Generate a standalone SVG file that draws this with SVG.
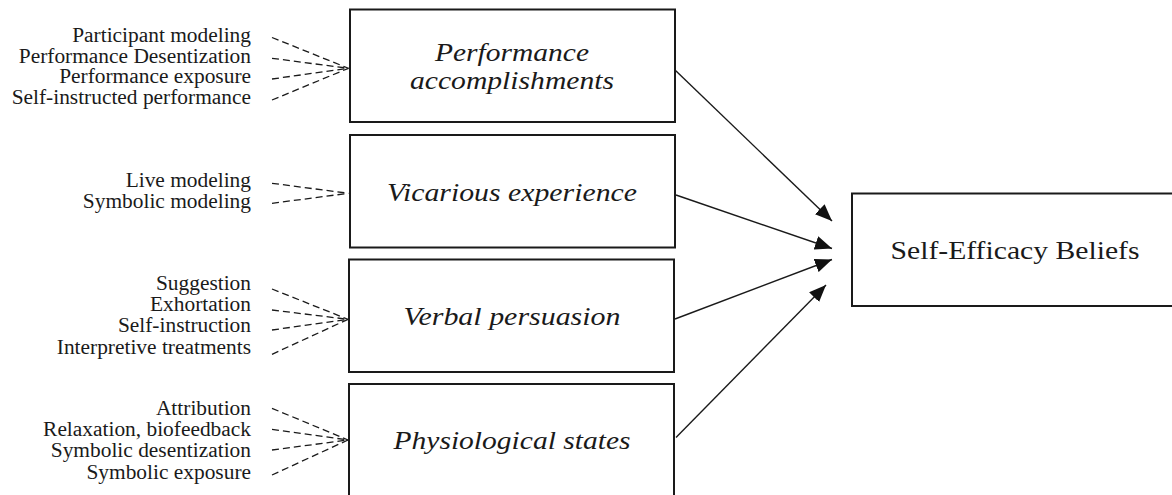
<svg xmlns="http://www.w3.org/2000/svg" width="1172" height="495" viewBox="0 0 1172 495">
<style>
.box{fill:#fff;stroke:#1a1a1a;stroke-width:2}
.lbl{font-family:"Liberation Serif","Times New Roman",serif;font-size:20px;fill:#1a1a1a;text-anchor:end}
.bt{font-family:"Liberation Serif","Times New Roman",serif;font-size:25px;font-style:italic;fill:#1a1a1a;text-anchor:middle}
.st{font-family:"Liberation Serif","Times New Roman",serif;font-size:26px;fill:#1a1a1a;text-anchor:middle}
.dash{stroke:#1a1a1a;stroke-width:1.3;stroke-dasharray:7,4;fill:none}
.arr{stroke:#1a1a1a;stroke-width:1.4;fill:none;marker-end:url(#ah)}
</style>
<defs>
<marker id="ah" markerUnits="userSpaceOnUse" markerWidth="18" markerHeight="14" refX="17" refY="7" orient="auto">
<path d="M0,0 L17,7 L0,14 z" fill="#111"/>
</marker>
</defs>
<rect width="1172" height="495" fill="#fff"/>

<g id="node-performance">
<rect class="box" x="350" y="9.5" width="325" height="112.5"/>
<text class="bt" x="512" y="61" textLength="154" lengthAdjust="spacingAndGlyphs">Performance</text>
<text class="bt" x="512" y="89" textLength="204" lengthAdjust="spacingAndGlyphs">accomplishments</text>
</g>
<g id="node-vicarious">
<rect class="box" x="350" y="135" width="325" height="112.5"/>
<text class="bt" x="512" y="201" textLength="250" lengthAdjust="spacingAndGlyphs">Vicarious experience</text>
</g>
<g id="node-verbal">
<rect class="box" x="349" y="259.5" width="325" height="112.5"/>
<text class="bt" x="512" y="325" textLength="217" lengthAdjust="spacingAndGlyphs">Verbal persuasion</text>
</g>
<g id="node-physio">
<rect class="box" x="349" y="384" width="325" height="120"/>
<text class="bt" x="512" y="449" textLength="237" lengthAdjust="spacingAndGlyphs">Physiological states</text>
</g>
<g id="node-selfefficacy">
<rect class="box" x="852" y="193.5" width="330" height="112.5"/>
<text class="st" x="1015" y="259" textLength="249" lengthAdjust="spacingAndGlyphs">Self-Efficacy Beliefs</text>
</g>

<g id="labels-performance" transform="translate(251 0) scale(1.07 1)">
<text class="lbl" x="0" y="42.5">Participant modeling</text>
<text class="lbl" x="0" y="63">Performance Desentization</text>
<text class="lbl" x="0" y="83.5">Performance exposure</text>
<text class="lbl" x="0" y="104">Self-instructed performance</text>
</g>
<g id="labels-vicarious" transform="translate(251 0) scale(1.07 1)">
<text class="lbl" x="0" y="187.5">Live modeling</text>
<text class="lbl" x="0" y="208.5">Symbolic modeling</text>
</g>
<g id="labels-verbal" transform="translate(251 0) scale(1.07 1)">
<text class="lbl" x="0" y="290.5">Suggestion</text>
<text class="lbl" x="0" y="311.5">Exhortation</text>
<text class="lbl" x="0" y="332.5">Self-instruction</text>
<text class="lbl" x="0" y="354">Interpretive treatments</text>
</g>
<g id="labels-physio" transform="translate(251 0) scale(1.07 1)">
<text class="lbl" x="0" y="415">Attribution</text>
<text class="lbl" x="0" y="436">Relaxation, biofeedback</text>
<text class="lbl" x="0" y="457.5">Symbolic desentization</text>
<text class="lbl" x="0" y="479">Symbolic exposure</text>
</g>

<g id="connectors">
<line class="dash" x1="272" y1="37.5" x2="348.5" y2="68.3"/>
<line class="dash" x1="272" y1="58.3" x2="348.5" y2="68.3"/>
<line class="dash" x1="272" y1="79" x2="348.5" y2="68.3"/>
<line class="dash" x1="272" y1="100" x2="348.5" y2="68.3"/>

<line class="dash" x1="272" y1="183.3" x2="348.5" y2="193.3"/>
<line class="dash" x1="272" y1="203.3" x2="348.5" y2="193.3"/>

<line class="dash" x1="272" y1="289" x2="348" y2="319.3"/>
<line class="dash" x1="272" y1="310" x2="348" y2="319.3"/>
<line class="dash" x1="272" y1="330" x2="348" y2="319.3"/>
<line class="dash" x1="272" y1="354.3" x2="348" y2="319.3"/>

<line class="dash" x1="272" y1="408.3" x2="348" y2="440"/>
<line class="dash" x1="272" y1="429.3" x2="348" y2="440"/>
<line class="dash" x1="272" y1="450" x2="348" y2="440"/>
<line class="dash" x1="272" y1="475" x2="348" y2="440"/>

<line class="arr" x1="675" y1="70" x2="832" y2="221"/>
<line class="arr" x1="676" y1="195" x2="832" y2="248.5"/>
<line class="arr" x1="675" y1="319" x2="832" y2="259.5"/>
<line class="arr" x1="676" y1="437.5" x2="826" y2="285"/>
</g>
</svg>
